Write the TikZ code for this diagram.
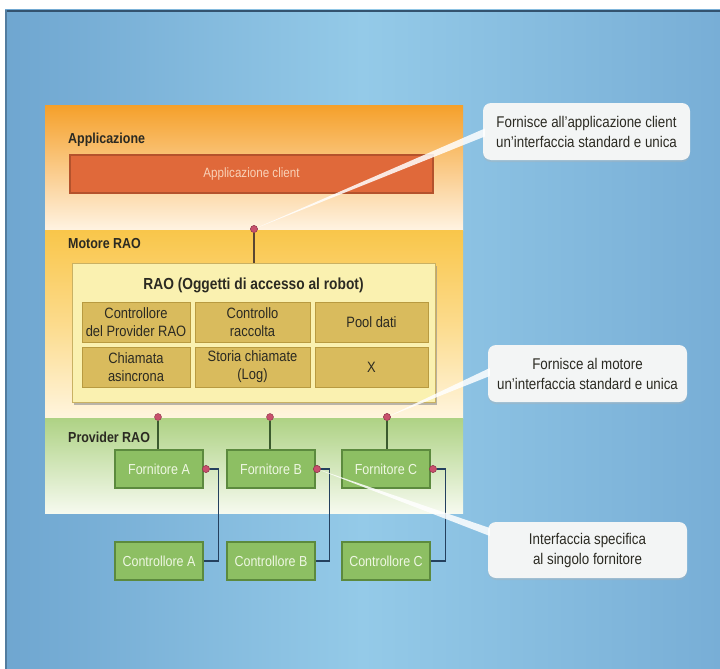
\documentclass[tikz,border=0pt]{standalone}
\usepackage{fontspec}
\setmainfont[FakeStretch=0.86]{Liberation Sans}
\usetikzlibrary{shadows,calc}
\definecolor{bgL}{HTML}{6FA6D0}
\definecolor{bgM}{HTML}{94CAE8}
\definecolor{bgR}{HTML}{78AED6}
\definecolor{edge}{HTML}{34536F}
\definecolor{orT}{HTML}{F5A02A}
\definecolor{orB}{HTML}{FFF3E2}
\definecolor{yeT}{HTML}{F9C64A}
\definecolor{yeB}{HTML}{FFF5DE}
\definecolor{grT}{HTML}{AED284}
\definecolor{grB}{HTML}{F6FAEF}
\definecolor{appF}{HTML}{E0693A}
\definecolor{appD}{HTML}{B4522C}
\definecolor{appT}{HTML}{F9D2B8}
\definecolor{raoF}{HTML}{FAF1B0}
\definecolor{raoD}{HTML}{C9B163}
\definecolor{cellF}{HTML}{D9BB5D}
\definecolor{cellD}{HTML}{B89A40}
\definecolor{txt}{HTML}{2B2A22}
\definecolor{provF}{HTML}{8DBF63}
\definecolor{provD}{HTML}{5C8A3E}
\definecolor{provT}{HTML}{EEF7E2}
\definecolor{dotF}{HTML}{C8506C}
\definecolor{wireM}{HTML}{5A4632}
\definecolor{wireP}{HTML}{3B5A2E}
\definecolor{wireC}{HTML}{24405E}
\definecolor{callF}{HTML}{F3F5F5}
\tikzset{
  lbl/.style={font=\fontsize{14.5}{17}\selectfont\bfseries, text=txt, anchor=west, inner sep=0pt},
  appbox/.style={draw=appD, line width=1.2pt, fill=appF, text=appT, minimum width=363pt, minimum height=38pt, font=\fontsize{13.5}{16}\selectfont, inner sep=0pt},
  raobox/.style={draw=raoD, line width=1pt, fill=raoF, minimum width=363pt, minimum height=139pt, inner sep=0pt,
     drop shadow={shadow xshift=1.5pt, shadow yshift=-2.5pt, fill=black!45, opacity=0.6}},
  cell/.style={draw=cellD, line width=0.6pt, fill=cellF, text=txt, minimum height=40pt, inner sep=0pt, align=center, font=\fontsize{15}{18}\selectfont},
  provbox/.style={draw=provD, line width=1.2pt, fill=provF, text=provT, minimum width=88pt, minimum height=38pt, inner sep=0pt, font=\fontsize{14.5}{16}\selectfont},
  dotn/.style={circle, fill=dotF, draw=dotF!70!black, line width=0.4pt, minimum size=7pt, inner sep=0pt},
  callout/.style={rounded corners=8pt, fill=callF, text=txt, align=center, inner sep=0pt, font=\fontsize{15.5}{20}\selectfont,
     drop shadow={shadow xshift=0pt, shadow yshift=-2pt, fill=black!30, opacity=0.35}},
  wireM/.style={draw=wireM, line width=1.3pt},
  wireP/.style={draw=wireP, line width=1.3pt},
  wireC/.style={draw=wireC, line width=1.3pt},
  pointer/.style={fill=white, opacity=0.85}
}
\begin{document}
\begin{tikzpicture}[x=1pt,y=-1pt]
\useasboundingbox (0,0) rectangle (720,669);
\fill[white] (0,0) rectangle (720,669);
% background
\shade[left color=bgL, right color=bgR, middle color=bgM] (5,10) rectangle (720,669);
\fill[edge] (5,10) rectangle (720,12.5);
\fill[edge!50!bgL] (5,10) rectangle (7,669);
% panel bands
\shade[top color=orT, bottom color=orB] (45,105) rectangle (463,230);
\shade[top color=yeT, bottom color=yeB, middle color=yeT!55!yeB] (45,230) rectangle (463,418);
\shade[top color=grT, bottom color=grB] (45,418) rectangle (463,513);
% labels
\node[lbl] (lApp) at (68,140) {Applicazione};
\node[lbl] (lMot) at (68,244) {Motore RAO};
\node[lbl] (lProv) at (68,437) {Provider RAO};
% application client
\node[appbox] (app) at (251.5,174) {Applicazione client};
% RAO box
\node[raobox] (rao) at (253.5,332.5) {};
\node[font=\fontsize{16}{18}\selectfont\bfseries, text=txt, inner sep=0pt] (raoT) at (253.5,285) {RAO (Oggetti di accesso al robot)};
\node[cell, minimum width=108pt] (c11) at (136,322) {Controllore\\del Provider RAO};
\node[cell, minimum width=115pt] (c12) at (252.5,322) {Controllo\\raccolta};
\node[cell, minimum width=113pt] (c13) at (371.5,322) {Pool dati};
\node[cell, minimum width=108pt] (c21) at (136,367) {Chiamata\\asincrona};
\node[cell, minimum width=115pt] (c22) at (252.5,367) {Storia chiamate\\(Log)};
\node[cell, minimum width=113pt] (c23) at (371.5,367) {X};
% providers
\node[provbox] (fA) at (159,469) {Fornitore A};
\node[provbox] (fB) at (271,469) {Fornitore B};
\node[provbox] (fC) at (386,469) {Fornitore C};
\node[provbox] (cA) at (159,561) {Controllore A};
\node[provbox] (cB) at (271,561) {Controllore B};
\node[provbox] (cC) at (386,561) {Controllore C};
% callouts
\node[callout, minimum width=207pt, minimum height=57pt] (k1) at (586.5,131.5) {Fornisce all'applicazione client\\un'interfaccia standard e unica};
\node[callout, minimum width=199pt, minimum height=57pt] (k2) at (587.5,373.5) {Fornisce al motore\\un'interfaccia standard e unica};
\node[callout, minimum width=199pt, minimum height=56pt] (k3) at (587.5,550) {Interfaccia specifica\\al singolo fornitore};
% dots
\node[dotn] (d0) at (254,229) {};
\node[dotn] (dA) at (158,417) {};
\node[dotn] (dB) at (270,417) {};
\node[dotn] (dC) at (387,417) {};
\node[dotn] (sA) at (206,469) {};
\node[dotn] (sB) at (317,469) {};
\node[dotn] (sC) at (433,469) {};
% wires
\draw[wireM] (d0.south) -- (d0.south |- rao.north);
\draw[wireP] (dA.south) -- (dA.south |- fA.north);
\draw[wireP] (dB.south) -- (dB.south |- fB.north);
\draw[wireP] (dC.south) -- (dC.south |- fC.north);
\draw[wireC] (sA.east) -- ++(9,0) |- (cA.east);
\draw[wireC] (sB.east) -- ++(9,0) |- (cB.east);
\draw[wireC] (sC.east) -- ++(9,0) |- (cC.east);
\node[dotn] at (sA) {};
\node[dotn] at (sB) {};
\node[dotn] at (sC) {};
% pointers
\coordinate (p1) at ($(k1.west)+(0,1)$);
\coordinate (p2) at ($(k2.west)+(0,-1.5)$);
\coordinate (p3) at ($(k3.west)+(0,-18)$);
\fill[pointer] (d0.center) -- ($(p1)+(2,-4)$) -- ($(p1)+(2,4)$) -- cycle;
\fill[pointer] (dC.center) -- ($(p2)+(2,-4)$) -- ($(p2)+(2,4)$) -- cycle;
\fill[pointer] (sB.center) -- ($(p3)+(2,-4)$) -- ($(p3)+(2,4)$) -- cycle;
\node[dotn] at (d0) {};
\node[dotn] at (dC) {};
\node[dotn] at (sB) {};
\end{tikzpicture}
\end{document}
